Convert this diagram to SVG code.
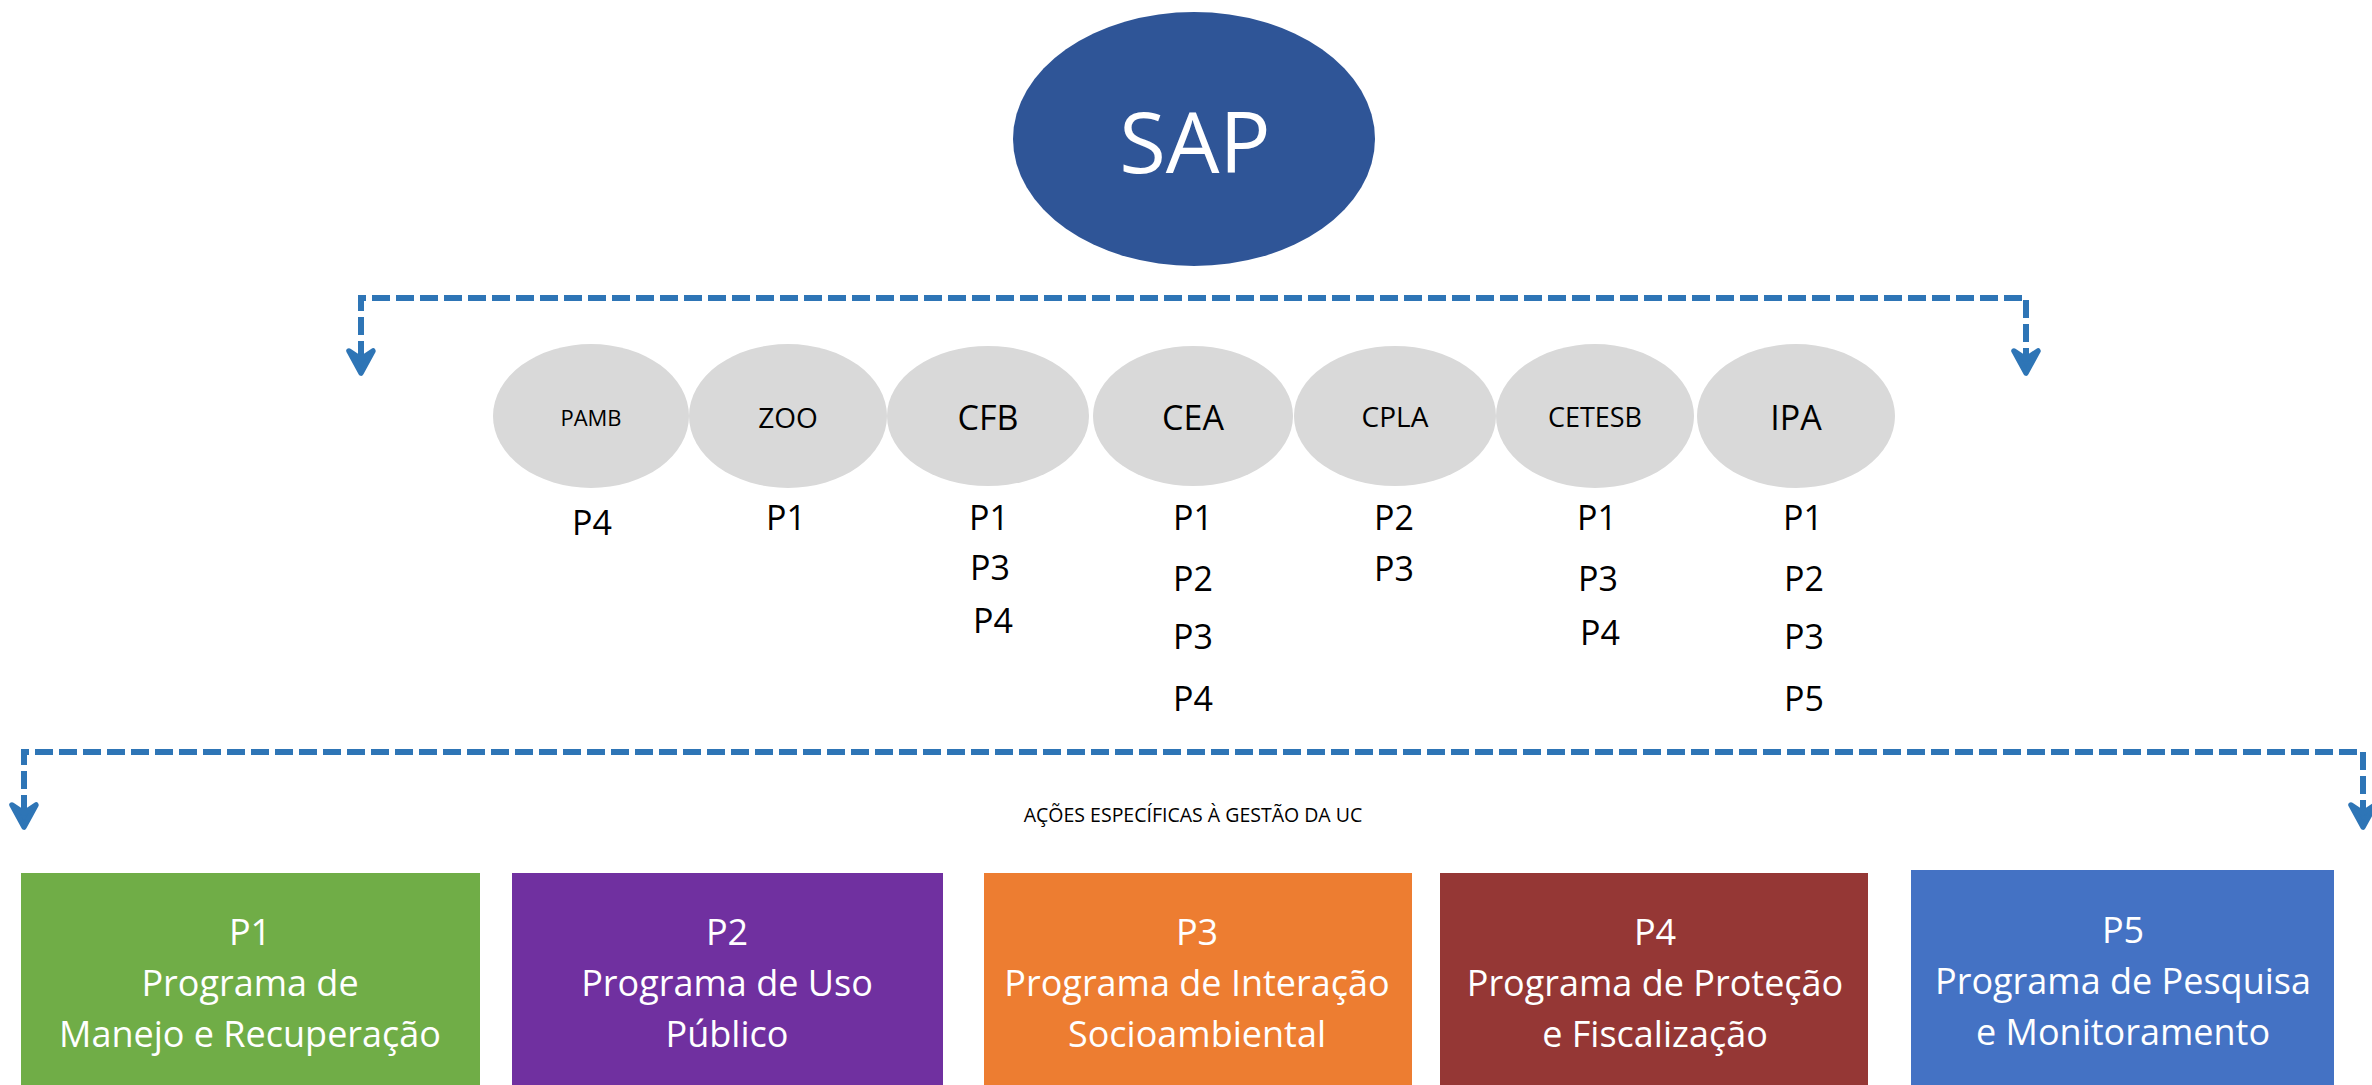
<svg xmlns="http://www.w3.org/2000/svg" width="2372" height="1085" viewBox="0 0 2372 1085">
<style>
text{font-family:"Open Sans","Noto Sans","DejaVu Sans",sans-serif;text-anchor:middle}
.org{fill:#D9D9D9}
.lbl{fill:#000}
.p{fill:#000;font-size:34px}
.box text{fill:#fff;font-size:36px}
.conn{fill:none;stroke:#2E75B6;stroke-width:6;stroke-dasharray:18 6;marker-start:url(#ah);marker-end:url(#ah)}
</style>
<defs>
<marker id="ah" markerUnits="userSpaceOnUse" viewBox="-30 -20 40 40" markerWidth="40" markerHeight="40" refX="-14" refY="0" orient="auto-start-reverse" overflow="visible">
<path d="M-22,-12 L0,0 L-22,12 L-14,0 Z" fill="#2E75B6" stroke="#2E75B6" stroke-width="5.5" stroke-linejoin="round" stroke-linecap="round"/>
</marker>
</defs>
<rect width="2372" height="1085" fill="#fff"/>

<g id="connectors">
<path class="conn" d="M361,359 V298 H2026 V359"/>
<path class="conn" d="M24,813 V752 H2363 V813"/>
</g>

<g id="sap">
<ellipse cx="1194" cy="139" rx="181" ry="127" fill="#2F5597"/>
<text x="1195" y="173" font-size="85" fill="#fff">SAP</text>
</g>

<g id="pamb">
<ellipse class="org" cx="591" cy="416" rx="98" ry="72"/>
<text class="lbl" x="591" y="426" font-size="22">PAMB</text>
<text class="p" x="592" y="535">P4</text>
</g>
<g id="zoo">
<ellipse class="org" cx="788" cy="416" rx="99" ry="72"/>
<text class="lbl" x="788" y="428" font-size="28">ZOO</text>
<text class="p" x="786" y="530">P1</text>
</g>
<g id="cfb">
<ellipse class="org" cx="988" cy="416" rx="101" ry="70"/>
<text class="lbl" x="988" y="430" font-size="34">CFB</text>
<text class="p" x="989" y="530">P1</text>
<text class="p" x="990" y="580">P3</text>
<text class="p" x="993" y="633">P4</text>
</g>
<g id="cea">
<ellipse class="org" cx="1193" cy="416" rx="100" ry="70"/>
<text class="lbl" x="1193" y="430" font-size="34">CEA</text>
<text class="p" x="1193" y="530">P1</text>
<text class="p" x="1193" y="591">P2</text>
<text class="p" x="1193" y="649">P3</text>
<text class="p" x="1193" y="711">P4</text>
</g>
<g id="cpla">
<ellipse class="org" cx="1395" cy="416" rx="101" ry="70"/>
<text class="lbl" x="1395" y="427" font-size="28">CPLA</text>
<text class="p" x="1394" y="530">P2</text>
<text class="p" x="1394" y="581">P3</text>
</g>
<g id="cetesb">
<ellipse class="org" cx="1595" cy="416" rx="99" ry="72"/>
<text class="lbl" x="1595" y="427" font-size="27">CETESB</text>
<text class="p" x="1597" y="530">P1</text>
<text class="p" x="1598" y="591">P3</text>
<text class="p" x="1600" y="645">P4</text>
</g>
<g id="ipa">
<ellipse class="org" cx="1796" cy="416" rx="99" ry="72"/>
<text class="lbl" x="1796" y="430" font-size="34">IPA</text>
<text class="p" x="1803" y="530">P1</text>
<text class="p" x="1804" y="591">P2</text>
<text class="p" x="1804" y="649">P3</text>
<text class="p" x="1804" y="711">P5</text>
</g>

<g id="acoes">
<text x="1193" y="822" font-size="19.5" fill="#000">AÇÕES ESPECÍFICAS À GESTÃO DA UC</text>
</g>

<g id="p1" class="box">
<rect x="21" y="873" width="459" height="212" fill="#70AD47"/>
<text x="250" y="945">P1</text>
<text x="250" y="996">Programa de</text>
<text x="250" y="1047">Manejo e Recuperação</text>
</g>
<g id="p2" class="box">
<rect x="512" y="873" width="431" height="212" fill="#7030A0"/>
<text x="727" y="945">P2</text>
<text x="727" y="996">Programa de Uso</text>
<text x="727" y="1047">Público</text>
</g>
<g id="p3" class="box">
<rect x="984" y="873" width="428" height="212" fill="#ED7D31"/>
<text x="1197" y="945">P3</text>
<text x="1197" y="996">Programa de Interação</text>
<text x="1197" y="1047">Socioambiental</text>
</g>
<g id="p4" class="box">
<rect x="1440" y="873" width="428" height="212" fill="#953735"/>
<text x="1655" y="945">P4</text>
<text x="1655" y="996">Programa de Proteção</text>
<text x="1655" y="1047">e Fiscalização</text>
</g>
<g id="p5" class="box">
<rect x="1911" y="870" width="423" height="215" fill="#4472C4"/>
<text x="2123" y="943">P5</text>
<text x="2123" y="994">Programa de Pesquisa</text>
<text x="2123" y="1045">e Monitoramento</text>
</g>
</svg>
